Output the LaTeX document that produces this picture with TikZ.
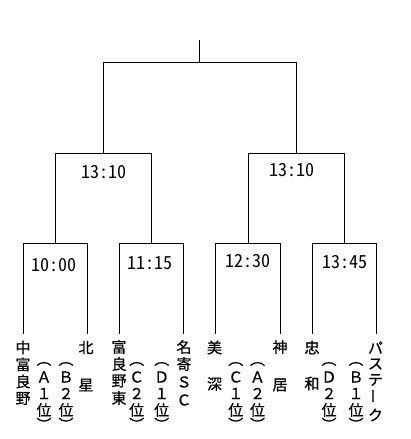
\documentclass[tikz,border=0pt]{standalone}
\usepackage{fontspec}
\newfontfamily\jp[FakeBold=0.6]{Noto Sans CJK JP}
\newfontfamily\jpt[RawFeature=+hwid]{Noto Sans CJK JP}
\newcommand\vcol[3]{\foreach \yy/\cc [count=\i] in {#3} {\node[ch] (#1-\i) at (#2,\yy) {\cc};}}
\newcommand\pcol[4]{\vcol{#1}{#2}{364/︵,377/#3,393.5/#4,410/位,424/︶}}
\newcommand\brk[5]{%
  \coordinate (#1-l) at (#2,#5);
  \coordinate (#1-tl) at (#2,#4);
  \coordinate (#1-tr) at (#3,#4);
  \coordinate (#1-r) at (#3,#5);
  \draw (#1-l) -- (#1-tl) -- (#1-tr) -- (#1-r);}
\begin{document}
\begin{tikzpicture}[x=1pt,y=-1pt,line width=1pt,
  ch/.style={inner sep=0pt,font=\jp\fontsize{15}{15}\selectfont},
  tm/.style={inner sep=0pt,font=\jpt\fontsize{18}{18}\selectfont}]
\useasboundingbox[fill=white] (0,0) rectangle (410,439);
% final stem
\coordinate (top) at (199.5,40);
\coordinate (topb) at (199.5,62);
\draw (top) -- (topb);
% brackets
\brk{F}{103.5}{296.3}{62}{153}
\brk{SL}{55.4}{151.6}{153}{243}
\brk{SR}{248.5}{344.3}{153}{243}
\brk{Q1}{23.3}{87.7}{243}{334}
\brk{Q2}{119.7}{183.3}{243}{334}
\brk{Q3}{215.7}{280.3}{243}{334}
\brk{Q4}{312.3}{376.7}{243}{334}
% times
\node[tm] (tSL) at (104,172) {13:10};
\node[tm] (tSR) at (292,170) {13:10};
\node[tm] (t1) at (54,265) {10:00};
\node[tm] (t2) at (150,263) {11:15};
\node[tm] (t3) at (248,261) {12:30};
\node[tm] (t4) at (345,262) {13:45};
% teams
\vcol{c1}{23}{347.5/中,364.5/富,381.5/良,398.5/野}
\pcol{c2}{44}{Ａ}{１}
\pcol{c3}{66}{Ｂ}{２}
\vcol{c4}{86}{347.5/北,385/星}
\vcol{c5}{119}{347/富,364/良,381/野,398/東}
\pcol{c6}{136.7}{Ｃ}{２}
\pcol{c7}{161.7}{Ｄ}{１}
\vcol{c8}{184}{347/名,364/寄,382/Ｓ,400/Ｃ}
\vcol{c9}{214.5}{347.5/美,384/深}
\pcol{c10}{235.8}{Ｃ}{１}
\pcol{c11}{257.5}{Ａ}{２}
\vcol{c12}{280}{347/神,385/居}
\vcol{c13}{312}{347.5/忠,383.5/和}
\pcol{c14}{329}{Ｄ}{２}
\pcol{c15}{356}{Ｂ}{１}
\vcol{c16}{375.5}{347.5/パ,364/ス,380/テ,415/ク}
\node[ch,rotate=90] (c16-5) at (375.5,396) {ー};
\end{tikzpicture}
\end{document}
